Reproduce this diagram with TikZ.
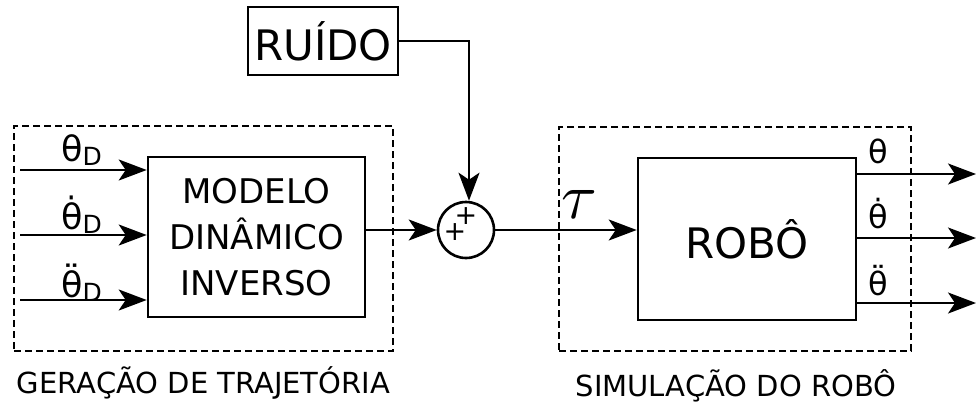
\documentclass[tikz,border=0pt]{standalone}
\usepackage{fontspec}
\setmainfont{DejaVu Sans}
\usetikzlibrary{arrows.meta}
\begin{document}
\begin{tikzpicture}[x=1pt,y=-1pt,
  blk/.style={draw,line width=2.6pt,inner sep=0pt,align=center},
  grp/.style={draw,line width=1.8pt,dash pattern=on 7pt off 4pt,inner sep=0pt},
  arr/.style={line width=2.2pt,-{Stealth[length=28pt,width=21pt,inset=7pt]}},
  lbl/.style={font=\fontsize{35}{35}\selectfont,inner sep=0pt,anchor=base west},
  rlbl/.style={font=\fontsize{32}{32}\selectfont,inner sep=0pt,anchor=base west},
  capt/.style={font=\fontsize{29}{29}\selectfont,inner sep=0pt},
  plus/.style={inner sep=0pt,font=\fontsize{27}{27}\selectfont}]
\useasboundingbox (0,0) rectangle (976,407);
% groups
\node[grp, minimum width=379pt, minimum height=225pt] (gen) at (203.5,238.5) {};
\node[grp, minimum width=352pt, minimum height=224pt] (sim) at (735,239) {};
% blocks
\node[blk, minimum width=217pt, minimum height=160pt,
      font=\fontsize{34}{46}\selectfont] (modelo) at (256.5,237) {MODELO\\DINÂMICO\\INVERSO};
\node[blk, minimum width=218pt, minimum height=162pt,
      font=\fontsize{42}{42}\selectfont] (robo) at (747,239) {ROBÔ};
\node[blk, minimum width=150pt, minimum height=68pt,
      font=\fontsize{42}{42}\selectfont] (ruido) at (323,41) {RUÍDO};
\node[draw, circle, line width=2.6pt, minimum size=56pt, inner sep=0pt] (sum) at (466,230) {};
\node[plus] (p1) at (466,216) {+};
\node[plus] (p2) at (455,232) {+};
% input and output ends
\coordinate (i1) at (20,170);
\coordinate (i2) at (20,235);
\coordinate (i3) at (20,300);
\coordinate (o1) at (976,174);
\coordinate (o2) at (976,238);
\coordinate (o3) at (976,303);
% connectors
\draw[arr] (i1) -- (i1 -| modelo.west);
\draw[arr] (i2) -- (i2 -| modelo.west);
\draw[arr] (i3) -- (i3 -| modelo.west);
\draw[arr] (modelo.east |- sum.west) -- (sum.west);
\draw[arr] (ruido.east) -| ([xshift=3pt]sum.north);
\draw[arr] (sum.east) -- (sum.east -| robo.west);
\draw[arr] (o1 -| robo.east) -- (o1);
\draw[arr] (o2 -| robo.east) -- (o2);
\draw[arr] (o3 -| robo.east) -- (o3);
% labels
\node[lbl] (l1) at (61,161) {θ\raisebox{-4pt}{\fontsize{25}{25}\selectfont D}};
\node[lbl] (l2) at (61,229) {θ̇\raisebox{-4pt}{\fontsize{25}{25}\selectfont D}};
\node[lbl] (l3) at (61,297) {θ̈\raisebox{-4pt}{\fontsize{25}{25}\selectfont D}};
\node[rlbl] (r1) at (868,163) {θ};
\node[rlbl] (r2) at (868,228) {θ̇};
\node[rlbl] (r3) at (868,295) {θ̈};
\node[inner sep=0pt] (tau) at (579,205) {\scalebox{6.5}{$\tau$}};
% captions
\node[capt] (c1) at (203.5,383) {GERAÇÃO DE TRAJETÓRIA};
\node[capt] (c2) at (736,386) {SIMULAÇÃO DO ROBÔ};
\end{tikzpicture}
\end{document}
